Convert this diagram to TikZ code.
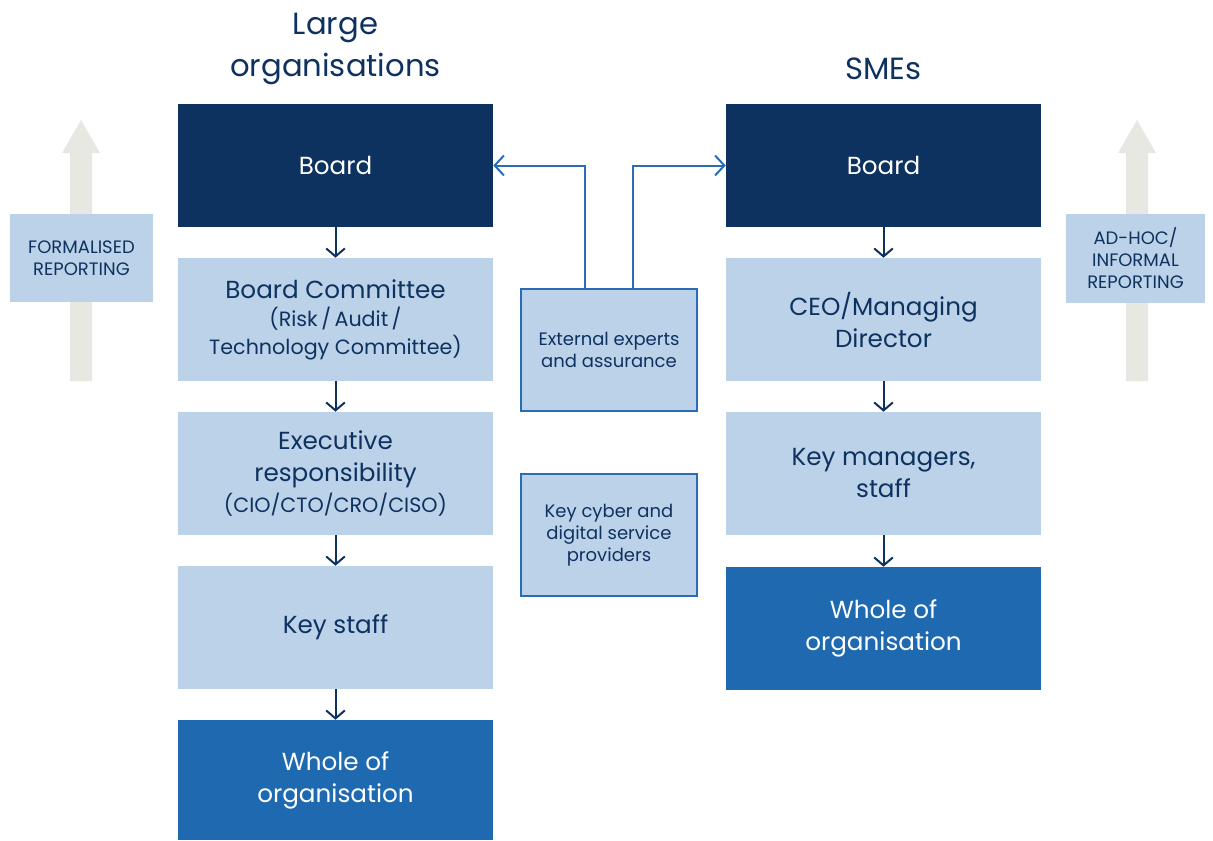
\documentclass[tikz,border=0pt]{standalone}
\usepackage{fontspec}
\setmainfont{Poppins}
\usetikzlibrary{arrows.meta}
\definecolor{navy}{HTML}{0E3260}
\definecolor{lightb}{HTML}{BCD2E8}
\definecolor{midb}{HTML}{1F69B0}
\definecolor{lineb}{HTML}{2A6DB5}
\definecolor{greyarr}{HTML}{E8E8E2}
\begin{document}
\begin{tikzpicture}[x=0.75pt,y=-0.75pt,
  colbox/.style={minimum width=236.25pt,minimum height=92.25pt,inner sep=0pt,align=center,font=\fontsize{18.5}{24}\selectfont},
  darkbox/.style={colbox,fill=navy,text=white},
  lightbox/.style={colbox,fill=lightb,text=navy},
  midbox/.style={colbox,fill=midb,text=white},
  sidebox/.style={draw=lineb,line width=1.5pt,fill=lightb,text=navy,minimum width=132pt,minimum height=91.5pt,inner sep=0pt,align=center,font=\fontsize{13.5}{16.5}\selectfont},
  labbox/.style={fill=lightb,text=navy,inner sep=0pt,align=center,font=\fontsize{13.5}{16.5}\selectfont},
  downarr/.style={draw=navy,line width=1.5pt,-{Straight Barb[length=6pt,width=14pt,line width=1.5pt]}},
  sidearr/.style={draw=lineb,line width=1.5pt,-{Straight Barb[length=7pt,width=15pt,line width=1.5pt]}},
  title/.style={text=navy,align=center,font=\fontsize{23}{31.5}\selectfont}
]
\useasboundingbox (0,0) rectangle (1213,840);
% titles
\node[title] (tl) at (335.5,49) {Large\\organisations};
\node[title] (tr) at (883.5,69) {SMEs};
% reporting arrows
\fill[greyarr] (70,381) -- (70,153) -- (62,153) -- (81,120) -- (100,153) -- (92,153) -- (92,381) -- cycle;
\fill[greyarr] (1126,381) -- (1126,153) -- (1118,153) -- (1137,120) -- (1156,153) -- (1148,153) -- (1148,381) -- cycle;
\node[labbox,minimum width=107.25pt,minimum height=66pt] (lf) at (81.5,258) {FORMALISED\\REPORTING};
\node[labbox,minimum width=104.25pt,minimum height=66.75pt] (lr) at (1135.5,258.5) {AD-HOC/\\INFORMAL\\REPORTING};
% left column
\node[lightbox] (lbc) at (335.5,319.5) {Board Committee\\[-3pt]{\fontsize{15.5}{18}\selectfont(Risk\,/\,Audit\,/}\\[-3pt]{\fontsize{15.5}{18}\selectfont Technology Committee)}};
\node[darkbox] (lb) at (335.5,165.5) {Board};
\node[lightbox] (lex) at (335.5,473.5) {Executive\\responsibility\\[-1pt]{\fontsize{15.5}{19}\selectfont(CIO/CTO/CRO/CISO)}};
\node[lightbox] (lks) at (335.5,627.5) {Key staff};
\node[midbox,minimum height=90pt] (lw) at (335.5,780) {Whole of\\organisation};
% right column
\node[darkbox] (rb) at (883.5,165.5) {Board};
\node[lightbox] (rceo) at (883.5,319.5) {CEO/Managing\\Director};
\node[lightbox] (rkm) at (883.5,473.5) {Key managers,\\staff};
\node[midbox] (rw) at (883.5,628.5) {Whole of\\organisation};
% middle boxes
\node[sidebox] (ext) at (609,350) {External experts\\and assurance};
\node[sidebox] (kc) at (609,535) {Key cyber and\\digital service\\providers};
% down arrows
\draw[downarr] (lb.south) -- (lbc.north);
\draw[downarr] (lbc.south) -- (lex.north);
\draw[downarr] (lex.south) -- (lks.north);
\draw[downarr] (lks.south) -- (lw.north);
\draw[downarr] (rb.south) -- (rceo.north);
\draw[downarr] (rceo.south) -- (rkm.north);
\draw[downarr] (rkm.south) -- (rw.north);
% connectors
\draw[sidearr] (ext.north -| 585,0) |- (lb.east);
\draw[sidearr] (ext.north -| 633,0) |- (rb.west);
\end{tikzpicture}
\end{document}
